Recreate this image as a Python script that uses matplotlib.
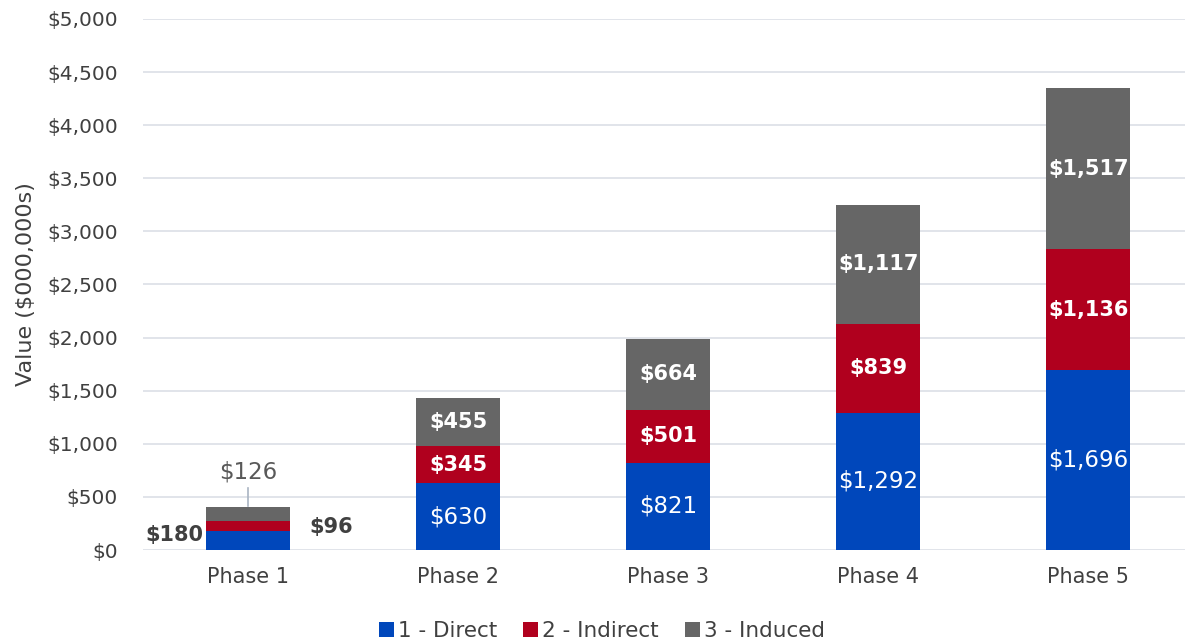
import matplotlib
matplotlib.use("Agg")
import matplotlib.pyplot as plt
import numpy as np

categories = ["Phase 1", "Phase 2", "Phase 3", "Phase 4", "Phase 5"]
direct = [180, 630, 821, 1292, 1696]
indirect = [96, 345, 501, 839, 1136]
induced = [126, 455, 664, 1117, 1517]
series_names = ["1 - Direct", "2 - Indirect", "3 - Induced"]
colors = ["#0047BB", "#B0001E", "#666666"]
yticks = list(range(0, 5001, 500))

plt.rcParams['font.family'] = ['DejaVu Sans']
fig = plt.figure(figsize=(11.85, 6.43), dpi=100)
ax = fig.add_axes([0.1207, 0.1446, 0.8793, 0.8259])

x = np.arange(len(categories))
w = 0.4
d = np.array(direct); i_ = np.array(indirect); n = np.array(induced)
b1 = ax.bar(x, d, w, color=colors[0], label=series_names[0], zorder=3)
b2 = ax.bar(x, i_, w, bottom=d, color=colors[1], label=series_names[1], zorder=3)
b3 = ax.bar(x, n, w, bottom=d + i_, color=colors[2], label=series_names[2], zorder=3)

ax.set_ylim(0, 5000)
ax.set_xlim(-0.5, 4.46)
ax.set_yticks(yticks)
ax.set_yticklabels([f"${v:,}" for v in yticks], fontsize=14.5, color="#404040")
ax.set_xticks(x)
ax.set_xticklabels(categories, fontsize=15, color="#404040")
ax.tick_params(axis='y', length=0, pad=18)
ax.tick_params(axis='x', length=0, pad=12)
ax.grid(axis='y', color="#DCDFE6", linewidth=1.2, zorder=0)
for s in ax.spines.values():
    s.set_visible(False)
ax.set_ylabel("Value ($000,000s)", fontsize=16, color="#404040", labelpad=8)

def fmt(v):
    return f"${v:,}"

# inside labels for phases 2-5
for k in range(1, len(categories)):
    ax.text(x[k], d[k] / 2, fmt(d[k]), ha='center', va='center', color='white', fontsize=16.5, zorder=4)
    ax.text(x[k], d[k] + i_[k] / 2, fmt(i_[k]), ha='center', va='center', color='white', fontsize=15, fontweight='bold', zorder=4)
    ax.text(x[k], d[k] + i_[k] + n[k] / 2, fmt(n[k]), ha='center', va='center', color='white', fontsize=15, fontweight='bold', zorder=4)

# phase 1 outside labels
ax.text(x[0] - 0.215, 141, fmt(d[0]), ha='right', va='center', color='#404040', fontsize=15, fontweight='bold', zorder=4)
ax.text(x[0] + 0.29, 217, fmt(i_[0]), ha='left', va='center', color='#404040', fontsize=15, fontweight='bold', zorder=4)
top0 = d[0] + i_[0] + n[0]
ax.plot([x[0], x[0]], [top0 + 10, top0 + 180], color="#A9B4C2", linewidth=1.2, zorder=4)
ax.text(x[0], 734, fmt(n[0]), ha='center', va='center', color='#595959', fontsize=16.5, zorder=4)

leg = fig.legend(handles=[b1, b2, b3], labels=series_names, loc='center', bbox_to_anchor=(0.508, 0.018),
                 ncol=3, frameon=False, fontsize=15.5, handlelength=0.7, handleheight=0.7,
                 handletextpad=0.2, columnspacing=1.2)
for t in leg.get_texts():
    t.set_color("#404040")

fig.savefig("out.png", dpi=100)
